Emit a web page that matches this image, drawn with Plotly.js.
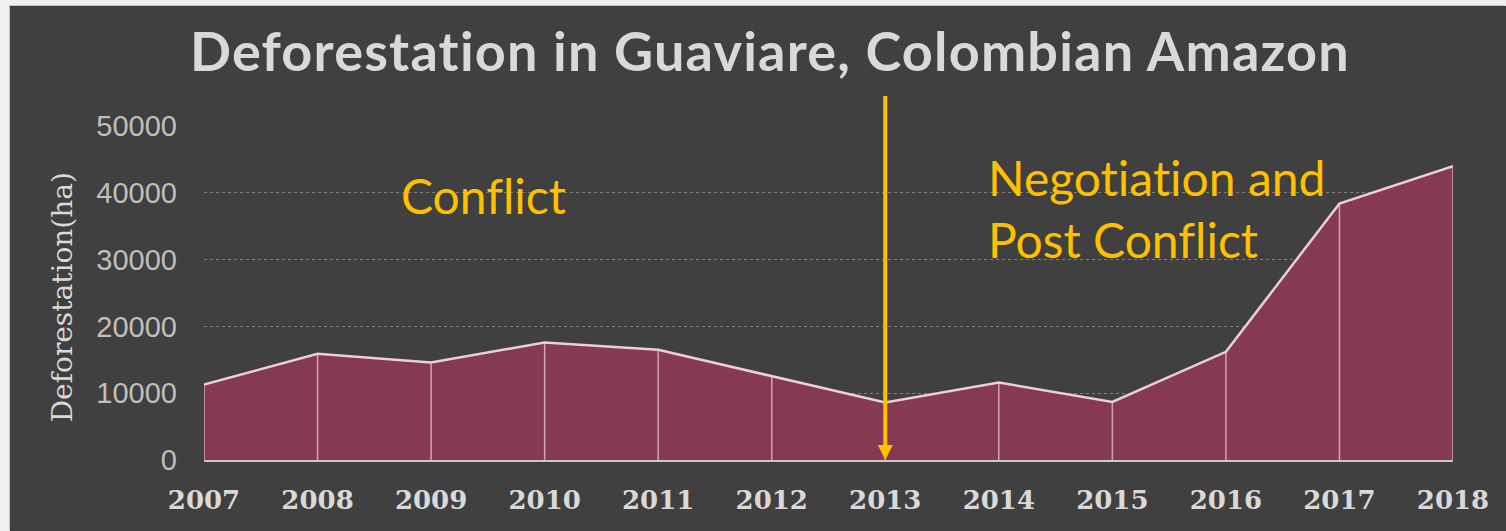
<!DOCTYPE html>
<html>
<head>
<meta charset="utf-8">
<script src="https://cdn.plot.ly/plotly-3.0.1.min.js"></script>
<style>
  body { margin: 0; background: #f0f0f0; }
  #chart { position: absolute; left: 10px; top: 6px; width: 1496px; height: 525px;
           box-shadow: -1px -1px 0 #c4c4c4; }
  #chart text, #chart tspan {
      font-variant-ligatures: none !important;
      font-feature-settings: "liga" 0, "clig" 0, "dlig" 0, "calt" 0 !important;
  }
  #chart .gtitle { letter-spacing: 1.2px; }
</style>
</head>
<body>
<div id="chart"></div>
<script>
const years = [2007, 2008, 2009, 2010, 2011, 2012, 2013, 2014, 2015, 2016, 2017, 2018];
// hectares deforested per year
const deforestation = [11300, 15900, 14600, 17600, 16500, 12500, 8600, 11600, 8700, 16200, 38400, 44000];
const yTicks = [0, 10000, 20000, 30000, 40000, 50000];

const fill_col = 'rgb(133, 58, 81)';
const edge_col = 'rgb(236, 206, 214)';
const gold = '#FFC000';

// one vertical segment per year, from the baseline up to the value
let vx = [];
let vy = [];
years.forEach((yr, i) => {
    vx.push(yr, yr, null);
    vy.push(0, deforestation[i], null);
});

const areaTrace = {
    x: years,
    y: deforestation,
    type: 'scatter',
    mode: 'lines',
    fill: 'tozeroy',
    fillcolor: fill_col,
    line: {width: 0},
    hoverinfo: 'skip'
};

const dropLines = {
    x: vx,
    y: vy,
    type: 'scatter',
    mode: 'lines',
    line: {color: 'rgba(235, 200, 210, 0.75)', width: 1.5},
    hoverinfo: 'skip'
};

const edgeTrace = {
    x: years,
    y: deforestation,
    type: 'scatter',
    mode: 'lines',
    line: {color: edge_col, width: 2.5}
};

const layout = {
    width: 1496,
    height: 525,
    showlegend: false,
    paper_bgcolor: '#404040',
    plot_bgcolor: '#404040',
    margin: {l: 194, r: 53, t: 120, b: 71},
    title: {
        text: 'Deforestation in Guaviare, Colombian Amazon',
        font: {family: 'Lato', weight: 700, size: 54, color: '#d9d9d9'},
        x: 0.508, xanchor: 'center',
        y: 0.912, yref: 'container', yanchor: 'middle'
    },
    xaxis: {
        range: [2007, 2018],
        tickvals: years,
        ticktext: years.map(String),
        showgrid: false,
        zeroline: false,
        showline: true,
        linecolor: '#c8c8c8',
        linewidth: 2,
        ticks: '',
        ticklabelstandoff: 16,
        tickfont: {family: 'DejaVu Serif', weight: 700, size: 26, color: '#d9d9d9'}
    },
    yaxis: {
        range: [0, 50000],
        tickvals: yTicks,
        ticktext: yTicks.map(String),
        showgrid: true,
        gridcolor: '#808080',
        griddash: 'dot',
        gridwidth: 1,
        zeroline: false,
        showline: false,
        ticks: '',
        ticklabelstandoff: 26,
        tickfont: {family: 'Liberation Sans', size: 29, color: '#bfbfbf'}
    },
    annotations: [
        {
            xref: 'paper', yref: 'paper', x: -0.1137, y: 0.487,
            text: 'Deforestation(ha)', textangle: -90, showarrow: false,
            xanchor: 'center', yanchor: 'middle',
            font: {family: 'DejaVu Serif', size: 28, color: '#d9d9d9'}
        },
        {
            x: 2008.72, y: 39600, xanchor: 'left', yanchor: 'middle', align: 'left',
            text: 'Conflict', showarrow: false,
            font: {family: 'Lato', size: 48, color: gold}
        },
        {
            x: 2013.89, y: 37600, xanchor: 'left', yanchor: 'middle', align: 'left',
            text: 'Negotiation and<br>Post Conflict', showarrow: false,
            font: {family: 'Lato', size: 48, color: gold}
        },
        {
            x: 2013, y: 0, axref: 'x', ayref: 'y', ax: 2013, ay: 54700,
            text: '', showarrow: true, arrowhead: 2, arrowsize: 0.75,
            arrowwidth: 4, arrowcolor: gold, standoff: 0
        }
    ]
};

Plotly.newPlot('chart', [areaTrace, dropLines, edgeTrace], layout, {displayModeBar: false, staticPlot: true});
</script>
</body>
</html>
